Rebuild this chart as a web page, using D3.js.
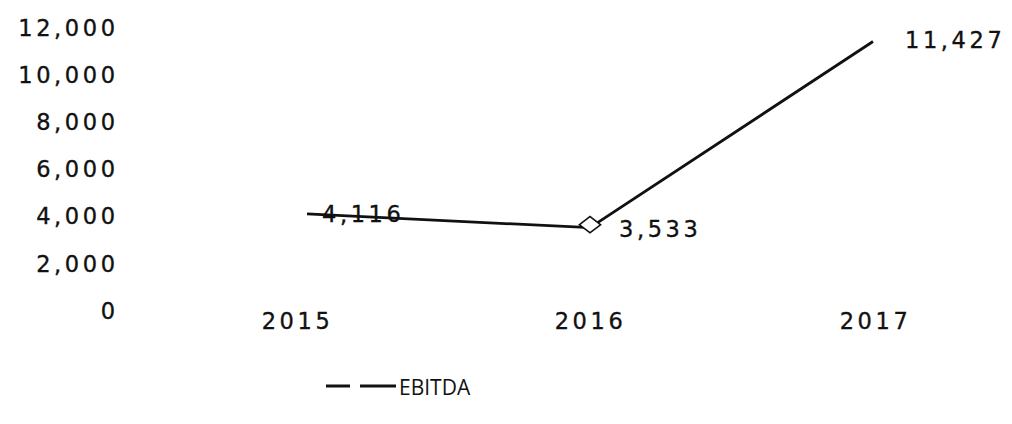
<!DOCTYPE html>
<html>
<head>
<meta charset="utf-8">
<script src="https://cdn.jsdelivr.net/npm/d3@7"></script>
<style>
  body { margin: 0; background: #fff; }
  svg text { fill: #111; }
</style>
</head>
<body>
<script>
const years = ["2015", "2016", "2017"];
const ebitda = [4116, 3533, 11427];
const yTicks = [0, 2000, 4000, 6000, 8000, 10000, 12000];
const seriesName = "EBITDA";

const width = 1012, height = 424;

let svg = d3.select("body")
    .append("svg")
    .attr("width", width)
    .attr("height", height);

let xScale = d3.scalePoint()
    .domain(years)
    .range([307, 873]);

let yScale = d3.scaleLinear()
    .domain([0, 12000])
    .range([311, 28]);

const fmt = d3.format(",");
const numFont = "DejaVu Sans, Verdana, sans-serif";
const ls = 3.6;

// style numbers a bit heavier, like the scanned original
function numStyle(sel) {
    sel.attr("font-family", numFont)
        .attr("font-size", 22.5)
        .attr("letter-spacing", ls)
        .attr("fill", "#111")
        .attr("stroke", "#111")
        .attr("stroke-width", 0.35);
}

// y axis labels, no line
let yAxis = svg.append("g")
    .attr("transform", "translate(" + (115 + ls) + ",0)")
    .call(d3.axisLeft(yScale).tickValues(yTicks).tickFormat(fmt).tickSize(0).tickPadding(0));
yAxis.select(".domain").remove();
yAxis.selectAll("text").call(numStyle);

// x axis labels
let xAxis = svg.append("g")
    .attr("transform", "translate(0,306)")
    .call(d3.axisBottom(xScale).tickSize(0).tickPadding(0));
xAxis.select(".domain").remove();
xAxis.selectAll("text")
    .call(numStyle)
    .attr("dy", "1.0em")
    .attr("dx", (d, i) => [-10, 0, 2][i]);

// line
let valueline = d3.line()
    .x((d, i) => xScale(years[i]))
    .y(d => yScale(d));

svg.append("path")
    .datum(ebitda)
    .attr("fill", "none")
    .attr("stroke", "#111")
    .attr("stroke-width", 2.8)
    .attr("d", valueline);

// data labels
const labelOffsets = [[15, 0], [29, 1], [32, -2]];
svg.selectAll(".lbl")
    .data(ebitda)
    .enter()
    .append("text")
    .attr("class", "lbl")
    .attr("x", (d, i) => xScale(years[i]) + labelOffsets[i][0])
    .attr("y", (d, i) => yScale(d) + labelOffsets[i][1])
    .attr("dy", "0.36em")
    .call(numStyle)
    .text(d => fmt(d));

// diamond marker on 2016
svg.append("path")
    .attr("d", d3.symbol().type(d3.symbolDiamond2).size(170))
    .attr("transform", "translate(" + xScale(years[1]) + "," + (yScale(ebitda[1]) - 3) + ") scale(1.3,1)")
    .attr("fill", "#fff")
    .attr("stroke", "#111")
    .attr("stroke-width", 1.4);

// legend
let legend = svg.append("g").attr("transform", "translate(0,386)");
legend.append("line")
    .attr("x1", 326).attr("x2", 396)
    .attr("y1", 0).attr("y2", 0)
    .attr("stroke", "#111")
    .attr("stroke-width", 2.8);
legend.append("rect")
    .attr("x", 350).attr("y", -4)
    .attr("width", 10).attr("height", 8)
    .attr("fill", "#fff");
legend.append("text")
    .attr("x", 399)
    .attr("y", 1)
    .attr("dy", "0.36em")
    .attr("font-family", "Open Sans, Liberation Sans, sans-serif")
    .attr("font-size", 21)
    .text(seriesName);
</script>
</body>
</html>
